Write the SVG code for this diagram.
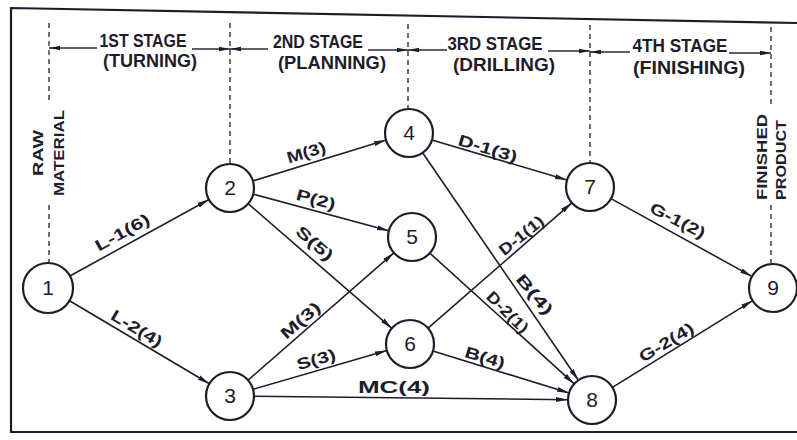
<svg xmlns="http://www.w3.org/2000/svg" width="797" height="440" viewBox="0 0 797 440">
  <defs>
    <marker id="arrow" markerUnits="userSpaceOnUse" markerWidth="13" markerHeight="7" refX="12" refY="3.5" orient="auto">
      <path d="M0,1 L12,3.5 L0,6 Z" fill="#1e1c2c"/>
    </marker>
    <marker id="tick" markerUnits="userSpaceOnUse" markerWidth="12" markerHeight="7" refX="11" refY="3.5" orient="auto">
      <path d="M0,1.2 L11,3.5 L0,5.8 Z" fill="#1e1c2c"/>
    </marker>
    <style>
      .frame { fill: none; stroke: #1e1c2c; stroke-width: 2.2; }
      .divider { stroke: #4a4858; stroke-width: 1.6; stroke-dasharray: 5 4; fill: none; }
      .span { stroke: #2a2838; stroke-width: 1.6; fill: none; marker-end: url(#tick); }
      .edge { stroke: #1e1c2c; stroke-width: 1.6; fill: none; marker-end: url(#arrow); }
      .node circle { fill: #ffffff; stroke: #1e1c2c; stroke-width: 2.2; }
      .node text { font-family: "Liberation Sans", Arial, sans-serif; font-size: 21px; fill: #1e1c2c; text-anchor: middle; }
      .lbl { font-family: "Liberation Sans", Arial, sans-serif; font-size: 16px; font-weight: bold; fill: #1e1c2c; text-anchor: middle; }
      .hdr { font-family: "Liberation Sans", Arial, sans-serif; font-size: 18px; font-weight: bold; fill: #1e1c2c; text-anchor: middle; }
      .side { font-family: "Liberation Sans", Arial, sans-serif; font-size: 15px; font-weight: bold; fill: #1e1c2c; text-anchor: middle; }
    </style>
  </defs>

  <rect width="797" height="440" fill="#ffffff"/>

  <!-- outer frame -->
  <polyline class="frame" points="797,23 11,8 11,432 797,432"/>

  <!-- stage boundaries -->
  <g id="stage-dividers">
    <line class="divider" x1="49" y1="23" x2="49" y2="100"/>
    <line class="divider" x1="49" y1="205" x2="49" y2="262"/>
    <line class="divider" x1="230" y1="23" x2="230" y2="164"/>
    <line class="divider" x1="408" y1="24" x2="408" y2="108"/>
    <line class="divider" x1="590" y1="25" x2="590" y2="162"/>
    <line class="divider" x1="771" y1="27" x2="771" y2="105"/>
    <line class="divider" x1="771" y1="205" x2="771" y2="263"/>
  </g>

  <!-- stage spans with headings -->
  <g id="stage-spans">
    <line class="span" x1="97" y1="48" x2="49" y2="48"/>
    <line class="span" x1="192" y1="49" x2="230" y2="49"/>
    <line class="span" x1="268" y1="49" x2="230" y2="49"/>
    <line class="span" x1="368" y1="50" x2="408" y2="50"/>
    <line class="span" x1="447" y1="50" x2="408" y2="50"/>
    <line class="span" x1="548" y1="51" x2="590" y2="51"/>
    <line class="span" x1="630" y1="52" x2="590" y2="52"/>
    <line class="span" x1="729" y1="53" x2="771" y2="53"/>

    <text class="hdr" x="143" y="47" textLength="87" lengthAdjust="spacingAndGlyphs">1ST STAGE</text>
    <text class="hdr" x="150" y="67" textLength="94" lengthAdjust="spacingAndGlyphs">(TURNING)</text>
    <text class="hdr" x="318" y="48" textLength="90" lengthAdjust="spacingAndGlyphs">2ND STAGE</text>
    <text class="hdr" x="332" y="69" textLength="108" lengthAdjust="spacingAndGlyphs">(PLANNING)</text>
    <text class="hdr" x="495" y="50" textLength="95" lengthAdjust="spacingAndGlyphs">3RD STAGE</text>
    <text class="hdr" x="504" y="71" textLength="102" lengthAdjust="spacingAndGlyphs">(DRILLING)</text>
    <text class="hdr" x="680" y="52" textLength="95" lengthAdjust="spacingAndGlyphs">4TH STAGE</text>
    <text class="hdr" x="689" y="74" textLength="112" lengthAdjust="spacingAndGlyphs">(FINISHING)</text>
  </g>

  <!-- end-point captions -->
  <g id="captions">
    <text class="side" transform="translate(38,153) rotate(-90)" y="5" textLength="46" lengthAdjust="spacingAndGlyphs">RAW</text>
    <text class="side" transform="translate(59,153) rotate(-90)" y="5" textLength="86" lengthAdjust="spacingAndGlyphs">MATERIAL</text>
    <text class="side" transform="translate(762,157) rotate(-90)" y="5" textLength="86" lengthAdjust="spacingAndGlyphs">FINISHED</text>
    <text class="side" transform="translate(781,160) rotate(-90)" y="5" textLength="80" lengthAdjust="spacingAndGlyphs">PRODUCT</text>
  </g>

  <!-- activities -->
  <g id="connectors">
    <line class="edge" x1="69.9" y1="276.0" x2="209.0" y2="199.5"/>
    <line class="edge" x1="69.5" y1="300.8" x2="209.4" y2="383.8"/>
    <line class="edge" x1="252.9" y1="180.9" x2="386.1" y2="140.1"/>
    <line class="edge" x1="253.2" y1="194.2" x2="388.8" y2="230.8"/>
    <line class="edge" x1="248.1" y1="203.7" x2="391.9" y2="328.3"/>
    <line class="edge" x1="248.1" y1="380.2" x2="393.9" y2="252.8"/>
    <line class="edge" x1="253.1" y1="389.3" x2="386.9" y2="350.6"/>
    <line class="edge" x1="254" y1="396.3" x2="568" y2="399.7"/>
    <line class="edge" x1="432.0" y1="139.9" x2="567.0" y2="180.1"/>
    <line class="edge" x1="422.6" y1="152.8" x2="578.4" y2="380.2"/>
    <line class="edge" x1="429.8" y1="253.1" x2="574.2" y2="383.9"/>
    <line class="edge" x1="428.1" y1="328.2" x2="571.9" y2="202.8"/>
    <line class="edge" x1="432.9" y1="351.1" x2="569.1" y2="393.0"/>
    <line class="edge" x1="611.0" y1="198.6" x2="752.0" y2="276.4"/>
    <line class="edge" x1="612.4" y1="387.4" x2="752.6" y2="300.6"/>

    <text class="lbl" transform="translate(122,232) rotate(-29)" y="6" textLength="60" lengthAdjust="spacingAndGlyphs">L-1(6)</text>
    <text class="lbl" transform="translate(137,328) rotate(31)" y="6" textLength="57" lengthAdjust="spacingAndGlyphs">L-2(4)</text>
    <text class="lbl" transform="translate(306,152) rotate(-17)" y="6" textLength="40" lengthAdjust="spacingAndGlyphs">M(3)</text>
    <text class="lbl" transform="translate(316,199) rotate(15)" y="6" textLength="40" lengthAdjust="spacingAndGlyphs">P(2)</text>
    <text class="lbl" transform="translate(315,243) rotate(41)" y="6" textLength="44" lengthAdjust="spacingAndGlyphs">S(5)</text>
    <text class="lbl" transform="translate(300,320) rotate(-41)" y="6" textLength="47" lengthAdjust="spacingAndGlyphs">M(3)</text>
    <text class="lbl" transform="translate(316,359) rotate(-16)" y="6" textLength="40" lengthAdjust="spacingAndGlyphs">S(3)</text>
    <text class="lbl" x="394" y="393" textLength="72" lengthAdjust="spacingAndGlyphs">MC(4)</text>
    <text class="lbl" transform="translate(488,148) rotate(17)" y="6" textLength="61" lengthAdjust="spacingAndGlyphs">D-1(3)</text>
    <text class="lbl" transform="translate(535,294) rotate(50)" y="6" textLength="48" lengthAdjust="spacingAndGlyphs">B(4)</text>
    <text class="lbl" transform="translate(508,312) rotate(45)" y="6" textLength="52" lengthAdjust="spacingAndGlyphs">D-2(1)</text>
    <text class="lbl" transform="translate(521,235) rotate(-39)" y="6" textLength="53" lengthAdjust="spacingAndGlyphs">D-1(1)</text>
    <text class="lbl" transform="translate(485,357) rotate(17)" y="6" textLength="41" lengthAdjust="spacingAndGlyphs">B(4)</text>
    <text class="lbl" transform="translate(678,220) rotate(27)" y="6" textLength="60" lengthAdjust="spacingAndGlyphs">G-1(2)</text>
    <text class="lbl" transform="translate(666,342) rotate(-31)" y="6" textLength="61" lengthAdjust="spacingAndGlyphs">G-2(4)</text>
  </g>

  <!-- events -->
  <g id="node-1" class="node"><circle cx="48" cy="288" r="25"/><text x="48" y="295">1</text></g>
  <g id="node-2" class="node"><circle cx="230" cy="188" r="24"/><text x="230" y="195">2</text></g>
  <g id="node-3" class="node"><circle cx="230" cy="396" r="24"/><text x="230" y="403">3</text></g>
  <g id="node-4" class="node"><circle cx="409" cy="133" r="24"/><text x="409" y="140">4</text></g>
  <g id="node-5" class="node"><circle cx="412" cy="237" r="24"/><text x="412" y="244">5</text></g>
  <g id="node-6" class="node"><circle cx="410" cy="344" r="24"/><text x="410" y="351">6</text></g>
  <g id="node-7" class="node"><circle cx="590" cy="187" r="24"/><text x="590" y="194">7</text></g>
  <g id="node-8" class="node"><circle cx="592" cy="400" r="24"/><text x="592" y="407">8</text></g>
  <g id="node-9" class="node"><circle cx="773" cy="288" r="24"/><text x="773" y="295">9</text></g>
</svg>
